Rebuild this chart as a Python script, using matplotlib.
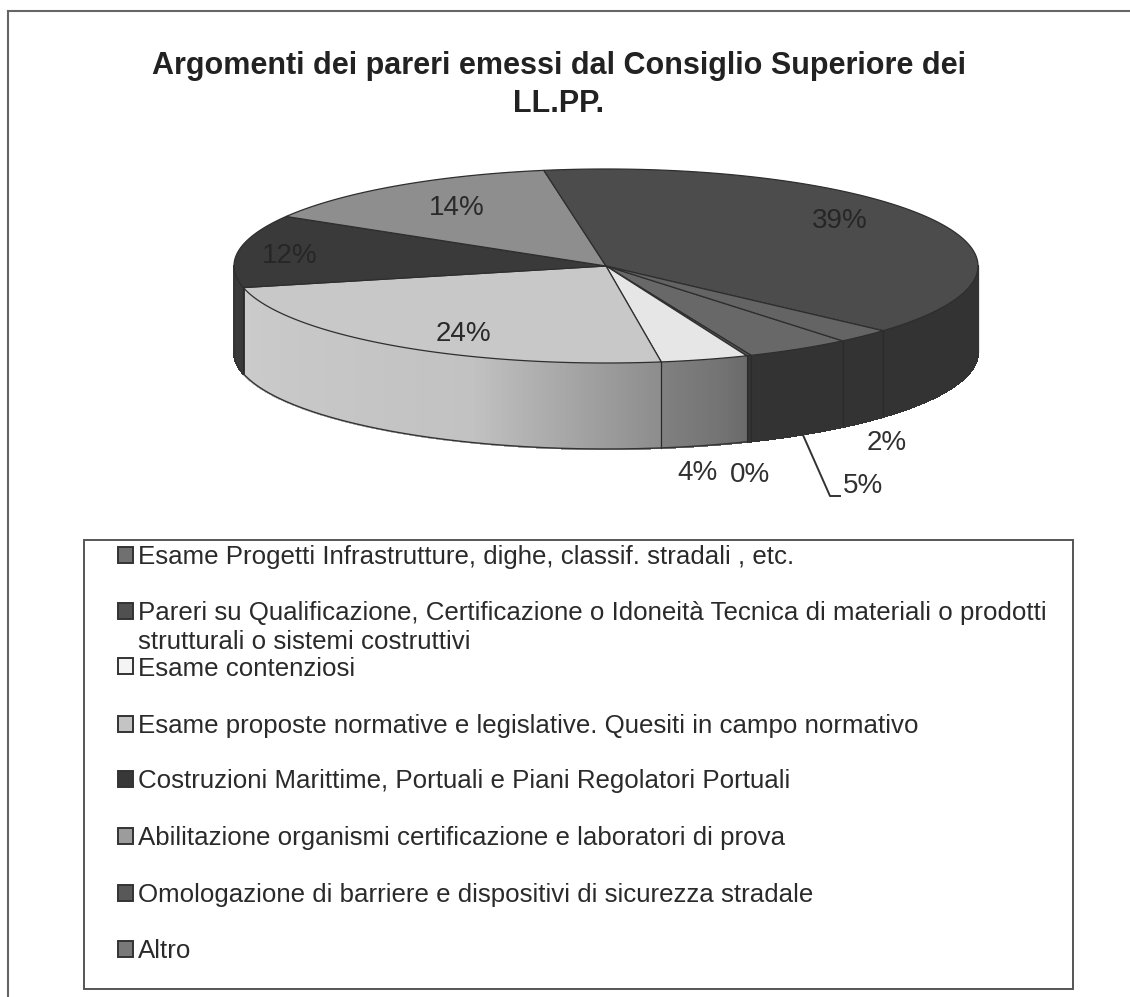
# 3D style pie chart with a boxed legend below it
import numpy as np
import matplotlib
matplotlib.use('Agg')
import matplotlib.pyplot as plt
from matplotlib.patches import Rectangle

plt.rcParams['font.family'] = ['Liberation Sans', 'DejaVu Sans']

# Data (same order as the legend, running clockwise round the pie)
categories = [
    "Esame Progetti Infrastrutture, dighe, classif. stradali , etc.",
    "Pareri su Qualificazione, Certificazione o Idoneità Tecnica di materiali o prodotti\nstrutturali o sistemi costruttivi",
    "Esame contenziosi",
    "Esame proposte normative e legislative. Quesiti in campo normativo",
    "Costruzioni Marittime, Portuali e Piani Regolatori Portuali",
    "Abilitazione organismi certificazione e laboratori di prova",
    "Omologazione di barriere e dispositivi di sicurezza stradale",
    "Altro",
]
values = [4.6, 0.2, 3.8, 23.8, 12.1, 13.8, 39.3, 2.4]
title = "Argomenti dei pareri emessi dal Consiglio Superiore dei\nLL.PP."

# Colours
top_colors = ['#686868', '#555555', '#e6e6e6', '#c8c8c8', '#3a3a3a', '#8e8e8e', '#4c4c4c', '#646464']
wall_greys = [(0x33, 0x33, 0x33), (0x33, 0x33, 0x33), (0x6a, 0x74, 0x80), (0x8c, 0xc2, 0xcb),
              (0x3a, 0x3a, 0x3a), (0x80, 0x80, 0x80), (0x33, 0x33, 0x33), (0x33, 0x33, 0x33)]
key_colors = ['#707070', '#505050', '#f4f4f4', '#c4c4c4', '#383838', '#9c9c9c', '#585858', '#787878']

# Layout in image pixels
cx, cy, rx, ry, depth = 606, 266, 372, 97, 86
start_angle = -50.5
label_xy = [(863, 486), (750, 475), (698, 473), (463, 334), (290, 256), (457, 208), (840, 221), (887, 443)]
key_y = [555, 611, 666, 724, 779, 836, 893, 949]
text_y = [555, 612, 667, 724, 779, 836, 893, 949]
label_colors = ['#303030', '#303030', '#303030', '#2a2a2a', '#262626', '#2a2a2a', '#262626', '#303030']


def rim(angles):
    rad = np.radians(angles)
    return cx + rx * np.cos(rad), cy - ry * np.sin(rad)


fig = plt.figure(figsize=(11.3, 9.97), dpi=100)
ax = fig.add_axes([0, 0, 1, 1])
ax.set_xlim(0, 1130)
ax.set_ylim(997, 0)
ax.axis('off')

# Slice angles going clockwise
sweeps = np.array(values) / sum(values) * 360
ends = start_angle - np.cumsum(sweeps)
starts = ends + sweeps

# Side wall, only the front half of the rim can be seen
for a0, a1, greys, sweep in zip(starts, ends, wall_greys, sweeps):
    # bring the slice into the -180..0 range
    shift = 360 if a1 < -360 else 0
    lo = max(a1 + shift, -180)
    hi = min(a0 + shift, 0)
    if hi <= lo:
        continue
    steps = np.linspace(hi, lo, max(int(hi - lo) * 3, 2) + 1)
    for s0, s1 in zip(steps[:-1], steps[1:]):
        frac = ((s0 + s1) / 2 - (a0 + shift)) / ((a1 + shift) - (a0 + shift))
        g = np.interp(frac, [0, 0.35, 1], greys) / 255
        xs, ys = rim(np.array([s0, s1]))
        ax.fill([xs[0], xs[1], xs[1], xs[0]], [ys[0], ys[1], ys[1] + depth, ys[0] + depth],
                color=(g, g, g), linewidth=1.0, antialiased=False, zorder=2)
    # divider down the wall
    if sweep > 1:
        for edge in (hi, lo):
            if edge not in (0, -180):
                ex, ey = rim(np.array([edge]))
                ax.plot([ex[0], ex[0]], [ey[0], ey[0] + depth], color='#2a2a2a', linewidth=0.8, zorder=3)

# Outline of the wall
arc = np.linspace(0, -180, 300)
ax_x, ax_y = rim(arc)
ax.plot(ax_x, ax_y + depth, color='#333333', linewidth=1.0, zorder=3)
ax.plot([ax_x[0], ax_x[0]], [ax_y[0], ax_y[0] + depth], color='#333333', linewidth=0.9, zorder=3)
ax.plot([ax_x[-1], ax_x[-1]], [ax_y[-1], ax_y[-1] + depth], color='#333333', linewidth=0.9, zorder=3)

# Top face
for a0, a1, color in zip(starts, ends, top_colors):
    xs, ys = rim(np.linspace(a0, a1, 120))
    ax.fill(np.r_[cx, xs], np.r_[cy, ys], facecolor=color, edgecolor='#2e2e2e', linewidth=0.9, zorder=4)

# Percent labels
for value, (lx, ly), color in zip(values, label_xy, label_colors):
    ax.text(lx, ly, f"{value:.0f}%", fontsize=20, color=color, ha='center', va='center', zorder=5)

# Leader line for the 5% label
ax.plot([803, 830, 840], [435, 496, 496], color='#333333', linewidth=1.4, zorder=5)

# Title
ax.text(559, 85, title, fontsize=22, fontweight='bold', color='#222222', ha='center', va='center',
        linespacing=1.39, zorder=5)

# Outer frame, right and bottom sides fall outside the picture
ax.plot([8, 8], [997, 11], color='#666666', linewidth=1.5)
ax.plot([8, 1130], [11, 11], color='#666666', linewidth=1.5)

# Legend box
ax.add_patch(Rectangle((84, 540), 989, 449, facecolor='white', edgecolor='#555555', linewidth=1.4, zorder=1))
for name, color, ky, ty in zip(categories, key_colors, key_y, text_y):
    ax.add_patch(Rectangle((117.5, ky - 8), 15.5, 15.5, facecolor=color, edgecolor='#333333', linewidth=1.4, zorder=5))
    if '\n' in name:
        ax.text(138, ty - 11, name, fontsize=18.6, color='#2a2a2a', ha='left', va='top', linespacing=1.26, zorder=5)
    else:
        ax.text(138, ty + 2, name, fontsize=18.6, color='#2a2a2a', ha='left', va='center', zorder=5)

fig.savefig('out.png', dpi=100, facecolor='white')
